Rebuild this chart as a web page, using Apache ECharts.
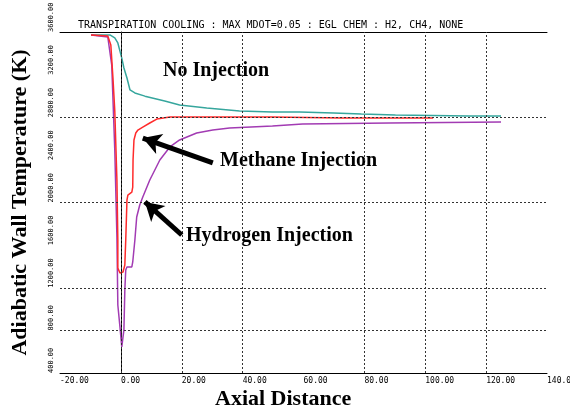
<!DOCTYPE html>
<html lang="en">
<head>
  <meta charset="UTF-8">
  <title>Transpiration cooling</title>
  <style>
    html, body { margin: 0; padding: 0; background: #fff; }
    #chart { width: 570px; height: 413px; }
  </style>
  <script src="https://cdn.jsdelivr.net/npm/echarts@6/dist/echarts.min.js"></script>
</head>
<body>
  <div id="chart"></div>
  <script>
    // curves: [axial distance, wall temperature K]
    var noInjection = [
      [-9.8, 3572], [-3.6, 3572], [-2.0, 3544], [-1.0, 3497], [0.3, 3355], [1.0, 3262],
      [2.0, 3168], [3.0, 3056], [4.6, 3028], [7.9, 2998], [14.4, 2952], [19.3, 2915],
      [28.2, 2887], [39.0, 2859], [49.8, 2850], [58.7, 2850], [69.8, 2840], [79.0, 2831],
      [90.2, 2821], [114.4, 2812], [124.9, 2812]
    ];
    var methane = [
      [-9.8, 3572], [-4.3, 3562], [-3.3, 3478], [-2.6, 3168], [-2.0, 2859], [-1.3, 2211],
      [-1.0, 1648], [-1.0, 1385], [-0.3, 1338], [0.7, 1348], [1.3, 1413], [1.6, 1648],
      [2.0, 2023], [2.3, 2070], [3.6, 2098], [3.9, 2145], [4.0, 2399], [4.3, 2586],
      [4.9, 2652], [5.6, 2680], [7.2, 2708], [9.5, 2746], [11.8, 2783], [16.1, 2802],
      [49.8, 2802], [72.5, 2793], [102.6, 2793]
    ];
    var hydrogen = [
      [-9.8, 3572], [-4.3, 3553], [-3.0, 3290], [-2.0, 2493], [-1.3, 1676], [-1.0, 1038],
      [-0.3, 832], [0.3, 644], [1.0, 804], [1.3, 1179], [1.6, 1367], [2.0, 1395],
      [3.6, 1395], [3.9, 1442], [4.6, 1648], [5.2, 1864], [6.2, 1977], [7.2, 2052],
      [9.5, 2211], [12.8, 2399], [16.1, 2521], [19.3, 2587], [24.9, 2652], [30.2, 2680],
      [35.7, 2699], [49.8, 2718], [59.7, 2737], [88.2, 2746], [124.9, 2755]
    ];

    // dotted grid lines that appear on the original
    var vGrid = [0, 20, 40, 80, 100, 120];
    var hGrid = [800, 1200, 2000, 2800];

    // arrows: [tail, head]
    var methaneArrow = [[30.2, 2371], [7.2, 2605]];
    var hydrogenArrow = [[20.0, 1695], [7.9, 2005]];

    var mono = 'DejaVu Sans Mono';
    var serif = 'Liberation Serif';

    var myChart = echarts.init(document.getElementById('chart'));

    var arrowLine = function (a) {
      return [{ coord: a[0] }, { coord: a[1] }];
    };

    var option = {
      animation: false,
      title: {
        text: 'TRANSPIRATION COOLING : MAX MDOT=0.05 : EGL CHEM : H2, CH4, NONE',
        left: 78, top: 20, padding: 0,
        textStyle: { fontFamily: mono, fontSize: 10, fontWeight: 'normal', color: '#000' }
      },
      grid: { left: 60, top: 32, right: 23, bottom: 40, outerBoundsMode: 'none', containLabel: false },
      xAxis: [{
        type: 'value', min: -20, max: 140, interval: 20,
        axisLine: { lineStyle: { color: '#000', width: 1 } },
        axisTick: { show: false },
        splitLine: { show: false },
        axisLabel: {
          fontFamily: mono, fontSize: 8, color: '#000', margin: 4, align: 'left',
          formatter: function (v) { return v.toFixed(2); }
        }
      }, {
        type: 'value', position: 'top', min: -20, max: 140,
        axisLine: { show: true, lineStyle: { color: '#000', width: 1 } },
        axisTick: { show: false }, axisLabel: { show: false }, splitLine: { show: false }
      }],
      yAxis: {
        type: 'value', min: 400, max: 3600, interval: 400,
        name: 'Adiabatic Wall Temperature (K)',
        nameLocation: 'middle', nameRotate: 90, nameGap: 29,
        nameTextStyle: { fontFamily: serif, fontSize: 22, fontWeight: 'bold', color: '#000' },
        axisLine: { show: true, lineStyle: { color: '#000', width: 1 } },
        axisTick: { show: false },
        splitLine: { show: false },
        axisLabel: {
          fontFamily: mono, fontSize: 7, color: '#000', margin: 9,
          rotate: 90, align: 'left', verticalAlign: 'middle',
          formatter: function (v) { return v.toFixed(2); }
        }
      },
      graphic: [
        { type: 'text', left: 163, top: 61, style: { text: 'No Injection', font: 'bold 20px "Liberation Serif"', fill: '#000' } },
        { type: 'text', left: 220, top: 151, style: { text: 'Methane Injection', font: 'bold 20px "Liberation Serif"', fill: '#000' } },
        { type: 'text', left: 186, top: 226, style: { text: 'Hydrogen Injection', font: 'bold 20px "Liberation Serif"', fill: '#000' } },
        { type: 'text', left: 215, top: 388, style: { text: 'Axial Distance', font: 'bold 22px "Liberation Serif"', fill: '#000' } }
      ],
      series: [{
        name: 'grid', type: 'line', data: [], silent: true,
        markLine: {
          silent: true, symbol: 'none', label: { show: false },
          lineStyle: { type: [2, 2], color: '#333', width: 1 },
          data: vGrid.map(function (v) { return { xAxis: v }; })
            .concat(hGrid.map(function (v) { return { yAxis: v }; }))
        }
      }, {
        name: 'No Injection', type: 'line', data: noInjection, showSymbol: false,
        lineStyle: { color: '#36a69d', width: 1.5 }, z: 3
      }, {
        name: 'Methane Injection', type: 'line', data: methane, showSymbol: false,
        lineStyle: { color: '#ff2b2b', width: 1.5 }, z: 4
      }, {
        name: 'Hydrogen Injection', type: 'line', data: hydrogen, showSymbol: false,
        lineStyle: { color: '#a23bb3', width: 1.5 }, z: 3
      }, {
        name: 'arrows', type: 'line', data: [], silent: true,
        markLine: {
          silent: true, symbol: ['none', 'arrow'], symbolSize: [16, 18],
          label: { show: false },
          lineStyle: { type: 'solid', color: '#000', width: 5 },
          data: [arrowLine(methaneArrow), arrowLine(hydrogenArrow)]
        }
      }]
    };

    myChart.setOption(option);
  </script>
</body>
</html>
